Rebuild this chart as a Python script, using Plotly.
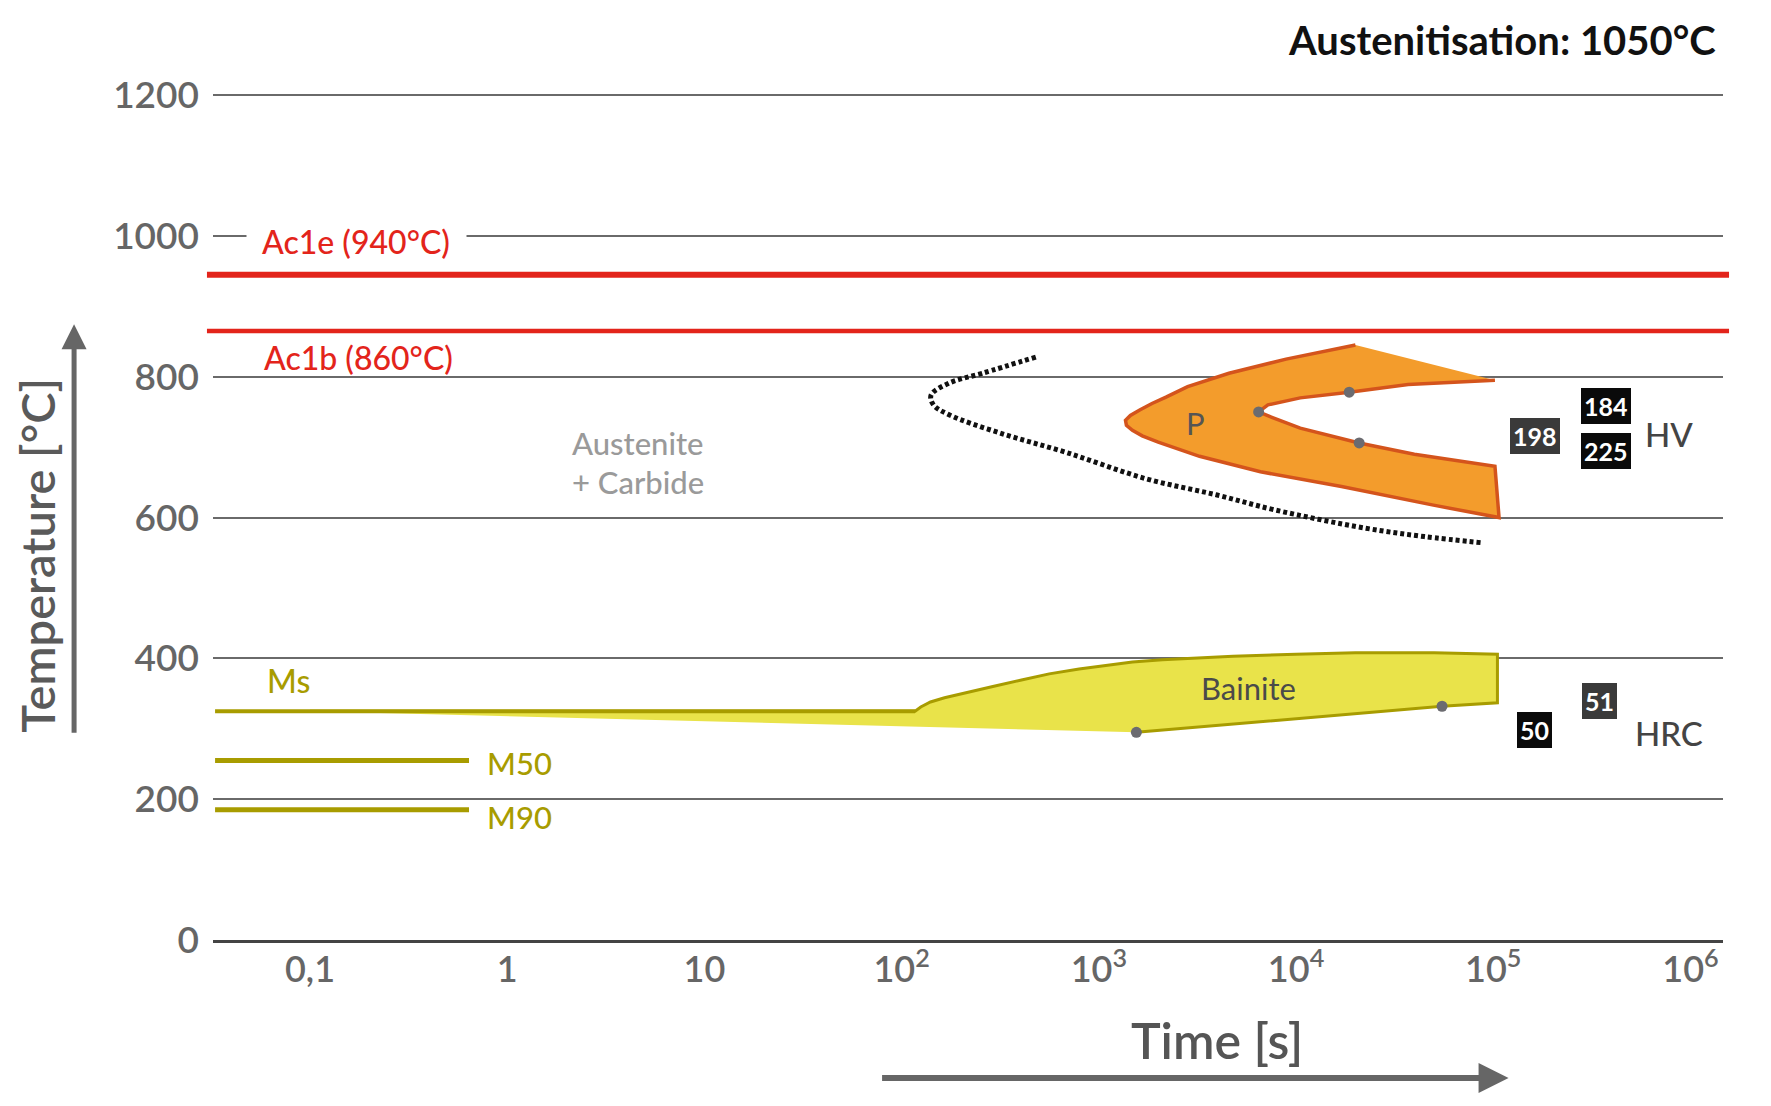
import numpy as np
import plotly.graph_objects as go

# ---------------- data ----------------
x_tickvals = [0.1, 1, 10, 1e2, 1e3, 1e4, 1e5, 1e6]
x_ticktext = ["0,1", "1", "10", "10<sup>2</sup>", "10<sup>3</sup>",
              "10<sup>4</sup>", "10<sup>5</sup>", "10<sup>6</sup>"]
y_tickvals = [0, 200, 400, 600, 800, 1000, 1200]

ac1e_T = 945
ac1b_T = 865

ms_time = [0.033, 117]
ms_T = [325, 325]
m50_time = [0.033, 0.64]
m50_T = [255, 255]
m90_time = [0.033, 0.64]
m90_T = [185, 185]

bainite_time = [0.1, 117, 125, 140, 165, 214, 290, 400, 560, 794, 1120, 1480,
                2100, 2820, 4790, 10000, 20000, 50100, 105000, 105000, 55000, 1550]
bainite_T = [325, 325, 331, 338, 344, 351, 360, 369, 378, 385, 391, 395,
             398, 400, 403, 406, 408, 408, 406, 337, 332, 295]

pearlite_time = [20000, 8900, 4570, 2820, 2190, 1860, 1620, 1445, 1365, 1380,
                 1480, 1660, 2000, 2510, 3240, 6600, 17000, 49000, 107000,
                 102000, 39800, 20900, 10500, 7600, 6460, 7200, 10500, 18600,
                 37000, 102000]
pearlite_T = [845, 825, 805, 786, 771, 762, 753, 745, 738, 731,
              724, 716, 707, 698, 687, 665, 644, 618, 600,
              673, 690, 706, 727, 742, 750, 760, 770, 778,
              789, 795]

carbide_time = [479, 257, 174, 141, 145, 174, 316, 692, 1740, 3980, 7760,
                22400, 44700, 89100]
carbide_T = [828, 805, 791, 774, 760, 746, 720, 692, 655, 632, 611,
             585, 573, 564]

dot_time = [6460, 18600, 20900, 1550, 55000]
dot_T = [750, 778, 706, 295, 332]

hv_values = ["184", "198", "225"]
hv_time = [372000, 162000, 372000]
hv_T = [758, 716, 694]
hv_bg = ["#0a0a0a", "#3a3a3a", "#0a0a0a"]

hrc_values = ["51", "50"]
hrc_time = [347000, 162000]
hrc_T = [339, 298]
hrc_bg = ["#3a3a3a", "#0a0a0a"]

# ---------------- figure ----------------
FONT = "Lato"
RED = "#e3241b"
OLIVE = "#a89c00"
GRAY = "#666666"

fig = go.Figure()

fig.add_trace(go.Scatter(x=bainite_time, y=bainite_T, mode="lines", fill="toself",
                         fillcolor="#e9e34a", line=dict(color=OLIVE, width=3),
                         hoverinfo="skip"))
for t, T, w in [(ms_time, ms_T, 4), (m50_time, m50_T, 5), (m90_time, m90_T, 5)]:
    fig.add_trace(go.Scatter(x=t, y=T, mode="lines", line=dict(color=OLIVE, width=w),
                             hoverinfo="skip"))
fig.add_trace(go.Scatter(x=pearlite_time, y=pearlite_T, mode="lines", fill="toself",
                         fillcolor="#f39c2c", line=dict(color="#d4541c", width=3.5),
                         hoverinfo="skip"))
fig.add_trace(go.Scatter(x=carbide_time, y=carbide_T, mode="lines",
                         line=dict(color="#111111", width=5, dash="4px,3px", shape="spline"),
                         hoverinfo="skip"))
fig.add_trace(go.Scatter(x=dot_time, y=dot_T, mode="markers",
                         marker=dict(color="#6b6b70", size=11), hoverinfo="skip"))

for T, w in [(ac1e_T, 6), (ac1b_T, 4.5)]:
    fig.add_shape(type="line", xref="paper", x0=-0.004, x1=1.004, yref="y", y0=T, y1=T,
                  line=dict(color=RED, width=w))

ann = []
def lab(text, t, T, color, size, anchor="center", weight=500, **kw):
    ann.append(dict(text=text, x=np.log10(t), y=T, xref="x", yref="y", showarrow=False,
                    xanchor=anchor, yanchor="middle",
                    font=dict(family=FONT, size=size, color=color, weight=weight), **kw))

lab("\u00a0\u00a0Ac1e (940°C)\u00a0\u00a0", 0.172, 992, RED, 32, bgcolor="white", borderpad=0)
lab("Ac1b (860°C)", 0.177, 827, RED, 32)
lab("Ms", 0.078, 368, OLIVE, 32)
lab("M50", 1.16, 252, OLIVE, 31)
lab("M90", 1.16, 174, OLIVE, 31)
lab("Austenite", 2.07, 706, "#9a9a9a", 31, anchor="left")
lab("+ Carbide", 2.07, 651, "#9a9a9a", 31, anchor="left")
lab("Bainite", 5750, 358, "#4a4a4a", 31, weight=400)
lab("P", 3100, 735, "#555555", 31, weight=400)
lab("HV", 776000, 719, "#444444", 33)
lab("HRC", 776000, 294, "#444444", 33)
for v, t, T, bg in zip(hv_values + hrc_values, hv_time + hrc_time, hv_T + hrc_T, hv_bg + hrc_bg):
    ann.append(dict(text="<b>%s</b>" % v, x=np.log10(t), y=T, xref="x", yref="y",
                    showarrow=False, bgcolor=bg, bordercolor=bg, borderwidth=1, borderpad=2,
                    font=dict(family=FONT, size=25, color="white")))

ann.append(dict(text="<b>Austenitisation: 1050°C</b>", xref="paper", yref="paper",
                x=0.997, y=1.062, xanchor="right", yanchor="middle", showarrow=False,
                font=dict(family=FONT, size=40, color="#111111")))
ann.append(dict(text="Temperature [°C]", xref="paper", yref="paper",
                x=-0.1164, y=0.454, xanchor="center", yanchor="middle", textangle=-90,
                showarrow=False, font=dict(family=FONT, size=47, color="#5a5a5a", weight=600)))
ann.append(dict(text="Time [s]", xref="paper", yref="paper",
                x=0.665, y=-0.118, xanchor="center", yanchor="middle", showarrow=False,
                font=dict(family=FONT, size=50, color="#555555", weight=600)))
ann.append(dict(text="", xref="paper", yref="paper", x=-0.092, y=0.727,
                axref="pixel", ayref="pixel", ax=0, ay=410, showarrow=True,
                arrowhead=2, arrowsize=1, arrowwidth=5, arrowcolor=GRAY))
ann.append(dict(text="", xref="paper", yref="paper", x=0.858, y=-0.163,
                axref="pixel", ayref="pixel", ax=-628, ay=0, showarrow=True,
                arrowhead=2, arrowsize=1, arrowwidth=6, arrowcolor=GRAY))

fig.update_layout(
    width=1771, height=1106,
    margin=dict(l=213, r=48, t=93, b=166),
    plot_bgcolor="white", paper_bgcolor="white",
    showlegend=False, annotations=ann,
    font=dict(family=FONT),
    xaxis=dict(type="log", range=[-1.492, 6.165], tickvals=x_tickvals, ticktext=x_ticktext,
               showgrid=False, zeroline=False, showline=True, linecolor="#444444",
               linewidth=3, ticks="", ticklabelstandoff=-4,
               tickfont=dict(family=FONT, size=36, color=GRAY, weight=600)),
    yaxis=dict(range=[0, 1203], tickvals=y_tickvals, showgrid=True, gridcolor="#6a6a6a",
               gridwidth=2, zeroline=False, showline=False, ticks="",
               ticklabelstandoff=13,
               tickfont=dict(family=FONT, size=37, color=GRAY, weight=600)),
)

fig.write_html("out.html", config={"displayModeBar": False},
               post_script="document.body.style.margin='0px';")
